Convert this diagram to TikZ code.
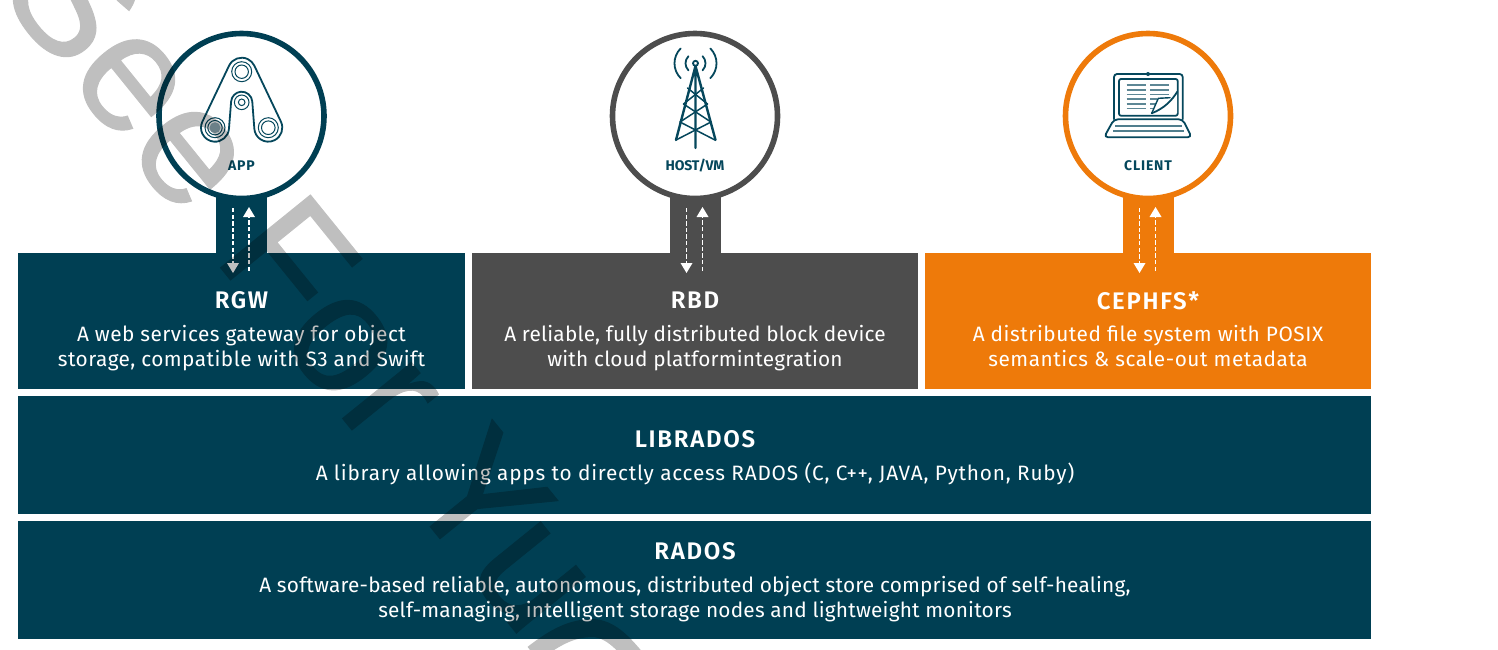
\documentclass[tikz,border=0pt]{standalone}
\usepackage{fontspec}
\setmainfont{Fira Sans}
\newfontfamily\titlefont[LetterSpace=7,BoldFont={Fira Sans SemiBold}]{Fira Sans}
\newfontfamily\wmfont[FakeBold=0.6]{Liberation Sans}
\usetikzlibrary{arrows.meta,calc}
\definecolor{teal}{HTML}{003F53}
\definecolor{slate}{HTML}{4D4D4D}
\definecolor{amber}{HTML}{EE7A0A}
\definecolor{icon}{HTML}{05475C}
\tikzset{
 ring/.style={circle,draw=#1,fill=white,line width=2.8pt,minimum size=82.5pt,inner sep=0},
 ttl/.style={text=white,font=\titlefont\fontsize{12}{14}\selectfont\bfseries,inner sep=0,anchor=center},
 body/.style={text=white,font={\fontspec[LetterSpace=#1]{Fira Sans}\fontsize{10.4}{12.5}\selectfont},inner sep=0,align=center,anchor=center},
 lbl/.style={text=icon,font={\fontspec[LetterSpace=#1]{Fira Sans}\fontsize{7}{8}\selectfont\bfseries},inner sep=0},
 flowd/.style={draw=white,line width=.6pt,dash pattern=on 2.2pt off 1.1pt},
 tip/.style={fill=white,draw=none},
 ic/.style={draw=icon,line width=.9pt,fill=none,line cap=round,line join=round},
 thin/.style={draw=icon,line width=.5pt,fill=none},
}
\newcommand{\feedsection}[6]{%
 \fill[#3] (#2-25.5,190) rectangle (#2+25.5,260);
 \node[ring=#3] (#1) at (#2,116) {};
 \node[lbl=#6] (#1lab) at (#2,#5) {#4};
 \coordinate (#1da) at (#2-8.5,208);
 \coordinate (#1db) at (#2-8.5,263);
 \coordinate (#1ua) at (#2+7.5,271);
 \coordinate (#1ub) at (#2+7.5,217);
 \draw[flowd] (#1da) -- (#1db);
 \draw[flowd] (#1ua) -- (#1ub);
 \fill[tip] ($(#1db)+(-6,0)$) -- ($(#1db)+(6,0)$) -- ($(#1db)+(0,10)$) -- cycle;
 \fill[tip] ($(#1ub)+(-6,0)$) -- ($(#1ub)+(6,0)$) -- ($(#1ub)+(0,-10)$) -- cycle;
}
\begin{document}
\begin{tikzpicture}[x=0.5pt,y=-0.5pt]
\useasboundingbox (0,0) rectangle (1498,649);
\fill[white] (0,0) rectangle (1498,649);
% panels
\fill[teal] (18,253) rectangle (465,389);
\fill[slate] (472,253) rectangle (918,389);
\fill[amber] (925,253) rectangle (1371,389);
\fill[teal] (18,396) rectangle (1371,514);
\fill[teal] (18,521) rectangle (1371,639);
\feedsection{app}{241.5}{teal}{APP}{165.5}{6}
\feedsection{host}{695}{slate}{HOST/VM}{165.5}{-1}
\feedsection{client}{1148}{amber}{CLIENT}{166}{6}
% text
\node[ttl] (t1) at (241.5,300.5) {RGW};
\node[body=2.3] (b1) at (241.5,348) {A web services gateway for object\\storage, compatible with S3 and Swift};
\node[ttl] (t2) at (695,300.5) {RBD};
\node[body=1] (b2) at (695,348) {A reliable, fully distributed block device\\with cloud platformintegration};
\node[ttl] (t3) at (1148,300.5) {CEPHFS*};
\node[body=2.6] (b3) at (1148,346) {A distributed file system with POSIX\\semantics \& scale-out metadata};
\node[ttl] (t4) at (695,439) {LIBRADOS};
\node[body=3.8] (b4) at (695,473.5) {A library allowing apps to directly access RADOS (C, C++, JAVA, Python, Ruby)};
\node[ttl] (t5) at (695,551) {RADOS};
\node[body=1] (b5) at (695,599) {A software-based reliable, autonomous, distributed object store comprised of self-healing,\\self-managing, intelligent storage nodes and lightweight monitors};
% APP icon
\draw[ic] ([shift={(205.5:14)}]241.7,71.7) arc (205.5:334.5:14)
  -- ([shift={(-25.5:14)}]268.3,127.7) arc (-25.5:175.5:14)
  -- ([shift={(-4.5:10.6)}]241.7,102.3) arc (-4.5:-175.5:10.6)
  -- ([shift={(4.5:14)}]215,127.7) arc (4.5:205.5:14) -- cycle;
\foreach \x/\y/\r in {241.7/71.7/10,241.7/71.7/6.7,241.7/102.3/7.3,241.7/102.3/3.3,215/127.7/10,215/127.7/7.2,268.3/127.7/10,268.3/127.7/6.8}{
  \draw[thin] (\x,\y) circle[radius=\r];
}
\fill[icon!45!white] (215,127.7) circle[radius=5.5];
% tower
\draw[ic,line width=1.2pt] (695.5,66) -- (676,140) (695.5,66) -- (715.5,140) (695.5,66) -- (695.5,148);
\foreach \ya/\xa/\yb/\xb in {88/8/104/12,104/12/122/15.5,122/15.5/140/19.5}{
  \draw[ic,line width=.75pt] (695.5-\xa,\ya) -- (695.5+\xb,\yb) (695.5+\xa,\ya) -- (695.5-\xb,\yb);
}
\draw[icon,fill=white,line width=.9pt] (695.5,63.3) circle[radius=2.5];
\foreach \r in {10,21}{
  \draw[ic] ([shift={(-45:\r)}]695.5,63.3) arc (-45:45:\r);
  \draw[ic] ([shift={(135:\r)}]695.5,63.3) arc (135:225:\r);
}
% laptop
\draw[ic,rounded corners=1.5pt] (1114,119.3) -- (1114,74) -- (1182.7,74) -- (1182.7,119.3);
\draw[ic,rounded corners=1pt] (1119,79) rectangle (1177.7,115.7);
\draw[ic,rounded corners=2pt] (1114,119.3) -- (1104,137.3) -- (1191.7,137.3) -- (1182.7,119.3) -- cycle;
\draw[icon!70!white,line width=.8pt] (1115,126) -- (1182,126) (1113,130.7) -- (1184,130.7);
\foreach \y in {85,90,94.3,99,103.7,108.3}{ \draw[icon!65!white,line width=.8pt] (1126.7,\y) -- (1146,\y); }
\foreach \y in {85,90,94.3}{ \draw[icon!65!white,line width=.8pt] (1150,\y) -- (1169.3,\y); }
\foreach \y in {99,103.7,108.3}{ \draw[icon!65!white,line width=.8pt] (1150,\y) -- (1157,\y); }
\fill[white] (1158.3,98.3) -- (1170,97.7) -- (1177,91.7) -- (1177,113) -- (1151.7,113.3) -- cycle;
\draw[ic] (1151.7,113.3) .. controls (1165,108) and (1172,100) .. (1177.3,91.7);
\draw[ic,line width=.7pt] (1151.7,113.3) -- (1158.3,98.3) -- (1170,97.7);
\fill[icon] (1148,74) circle[radius=2];
% watermark
\begin{scope}[transparency group,opacity=.25]
\path (-200,-200) rectangle (1700,900);
\node[rotate=-51,text=black,font=\wmfont\fontsize{84}{84}\selectfont,inner sep=0,anchor=base west] (wm) at (-5.7,-11.7) {See For Yu};
\end{scope}
\draw[black,opacity=.25,line width=9pt] (533,654) .. controls (555,637) and (572,628) .. (593,628) .. controls (610,629) and (622,642) .. (634,656);
\end{tikzpicture}
\end{document}
